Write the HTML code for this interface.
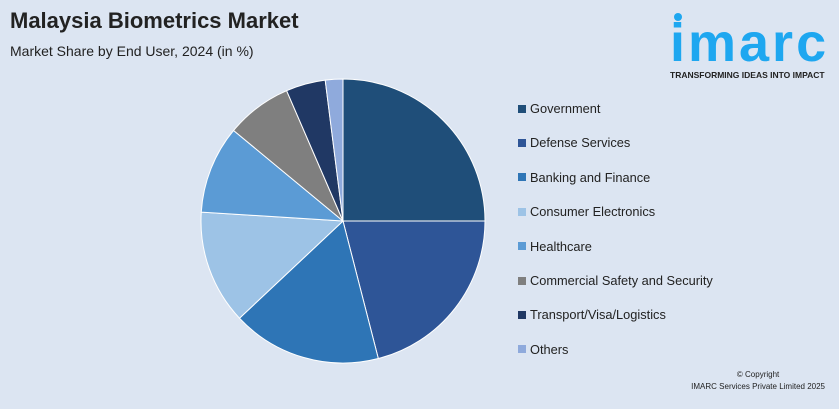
<!DOCTYPE html>
<html><head><meta charset="utf-8"><style>
body{margin:0;width:839px;height:409px;background:#dce5f2;font-family:"Liberation Sans",sans-serif;overflow:hidden;position:relative}
.t{position:absolute;left:10px;top:8px;font-size:22px;font-weight:bold;color:#222}
.s{position:absolute;left:10px;top:43px;font-size:14px;color:#222}
.lg{position:absolute;left:518px;font-size:12.8px;color:#222;display:flex;align-items:center}
.lg i{display:inline-block;width:8px;height:8px;margin-right:4px}
</style></head><body>
<div class="t">Malaysia Biometrics Market</div>
<div class="s">Market Share by End User, 2024 (in %)</div>
<div style="position:absolute;left:670px;top:8px;width:160px;height:75px">
<div style="position:absolute;left:4px;top:5px;width:8px;height:8px;border-radius:50%;background:#1ea7f0"></div>
<div style="position:absolute;left:0;top:10px;font-size:54px;font-weight:bold;color:#1ea7f0;letter-spacing:3px;line-height:50px">imarc</div>
<div style="position:absolute;left:0;top:62px;font-size:8.5px;font-weight:bold;color:#222;white-space:nowrap">TRANSFORMING IDEAS INTO IMPACT</div>
</div>
<svg id="pie" width="839" height="409" style="position:absolute;left:0;top:0"></svg>
<div id="legend"></div>
<div style="position:absolute;right:14px;top:369px;font-size:8px;color:#222;text-align:center;line-height:12px">© Copyright<br>IMARC Services Private Limited 2025</div>
<script>
const categories=["Government","Defense Services","Banking and Finance","Consumer Electronics","Healthcare","Commercial Safety and Security","Transport/Visa/Logistics","Others"];
const values=[25,21,17,13,10,7.5,4.5,2];
const colors=["#1f4e79","#2e5597","#2e75b6","#9dc3e6","#5b9bd5","#7f7f7f","#203864","#8faadc"];
const cx=343,cy=221,r=142;
const svg=document.getElementById('pie');
const total=values.reduce((a,b)=>a+b,0);
let a0=0;
function pt(a){return [cx+r*Math.sin(a),cy-r*Math.cos(a)];}
values.forEach((v,i)=>{
 const a1=a0+v/total*2*Math.PI;
 const p0=pt(a0),p1=pt(a1);
 const p=document.createElementNS('http://www.w3.org/2000/svg','path');
 p.setAttribute('d',`M${cx},${cy}L${p0[0]},${p0[1]}A${r},${r} 0 ${a1-a0>Math.PI?1:0} 1 ${p1[0]},${p1[1]}Z`);
 p.setAttribute('fill',colors[i]);
 p.setAttribute('stroke','#fff');
 p.setAttribute('stroke-width','1');
 
 
 svg.appendChild(p);
 a0=a1;
});
const lg=document.getElementById('legend');
categories.forEach((c,i)=>{
 const d=document.createElement('div');
 d.className='lg';
 d.style.top=(101+i*34.4)+'px';
 d.innerHTML=`<i style="background:${colors[i]}"></i>${c}`;
 
 
 lg.appendChild(d);
});
</script>
</body></html>
